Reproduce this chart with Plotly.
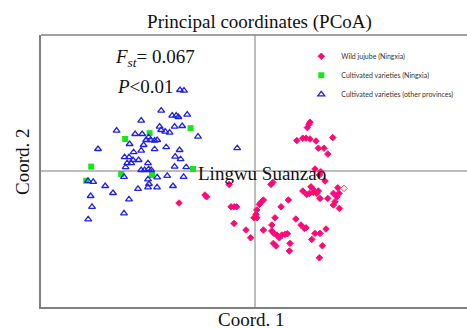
import plotly.graph_objects as go

# Wild jujube (Ningxia)
wild_x = [0.275, 0.270, 0.262, 0.209, 0.239, 0.255, 0.275, 0.305, 0.389, 0.317, 0.345, 0.364,
          0.300, 0.329, 0.322, 0.350, 0.089, 0.080, -0.129, 0.239, 0.259, 0.280, 0.289, 0.272,
          0.292, 0.309, 0.317, 0.325, 0.364, 0.392, 0.414, 0.420, 0.409, 0.400, 0.392, 0.422,
          -0.250, -0.242, 0.042, 0.029, 0.022, 0.167, 0.130, -0.120, -0.104, -0.092, 0.009,
          0.005, -0.005, 0.009, 0.100, 0.204, 0.230, 0.247, 0.255, -0.105, 0.084, -0.045,
          0.042, -0.022, 0.084, 0.095, 0.109, 0.122, 0.134, 0.150, 0.162, 0.092, 0.105,
          0.175, 0.172, 0.300, 0.325, 0.355, 0.284, 0.337, 0.322, -0.380]
wild_y = [0.244, 0.234, 0.217, 0.152, 0.164, 0.164, 0.160, 0.150, 0.167, 0.114, 0.114, 0.085,
          0.010, -0.004, -0.020, -0.050, -0.057, -0.067, -0.067, -0.100, -0.117, -0.079, -0.090,
          -0.112, -0.107, -0.112, -0.100, -0.137, -0.137, -0.112, -0.084, -0.112, -0.129,
          -0.154, -0.170, -0.187, -0.120, -0.129, -0.145, -0.157, -0.167, -0.145, -0.179,
          -0.179, -0.179, -0.179, -0.195, -0.217, -0.234, -0.234, -0.234, -0.240, -0.270,
          -0.287, -0.284, -0.262, -0.270, -0.295, -0.295, -0.334, -0.300, -0.312, -0.320,
          -0.334, -0.320, -0.317, -0.314, -0.362, -0.375, -0.362, -0.400, -0.312, -0.312,
          -0.290, -0.342, -0.374, -0.434, -0.160]

# Lingwu Suanzao (open diamond)
lingwu_x = [0.445]
lingwu_y = [-0.087]

# Cultivated varieties (Ningxia)
cult_nx_x = [-0.527, -0.649, -0.322, -0.819, -0.669, -0.515, -0.310, -0.844]
cult_nx_y = [0.189, 0.160, 0.214, 0.022, -0.015, -0.020, 0.010, -0.049]

# Cultivated varieties (other provinces)
cult_op_x = [-0.375, -0.355, -0.469, -0.414, -0.394, -0.383, -0.339, -0.569, -0.692, -0.477,
             -0.469, -0.449, -0.427, -0.402, -0.364, -0.599, -0.564, -0.532, -0.522, -0.502,
             -0.489, -0.544, -0.285, -0.627, -0.557, -0.502, -0.444, -0.785, -0.569, -0.607,
             -0.377, -0.652, -0.630, -0.610, -0.582, -0.399, -0.372, -0.639, -0.619, -0.535,
             -0.647, -0.402, -0.344, -0.569, -0.552, -0.532, -0.519, -0.655, -0.535, -0.489,
             -0.439, -0.357, -0.835, -0.809, -0.749, -0.585, -0.535, -0.530, -0.490, -0.410,
             -0.822, -0.630, -0.710, -0.815, -0.655, -0.834, -0.089]
cult_op_y = [0.405, 0.402, 0.302, 0.277, 0.277, 0.270, 0.282, 0.252, 0.202, 0.222,
             0.205, 0.197, 0.192, 0.222, 0.225, 0.185, 0.185, 0.169, 0.155, 0.152,
             0.155, 0.155, 0.172, 0.135, 0.130, 0.109, 0.119, 0.110, 0.102, 0.094,
             0.105, 0.069, 0.069, 0.055, 0.055, 0.072, 0.059, 0.039, 0.039, 0.039,
             0.019, 0.022, 0.019, 0.005, 0.005, 0.009, 0.005, -0.029, -0.042, -0.032,
             -0.024, -0.029, -0.049, -0.054, -0.075, -0.089, -0.082, -0.065, -0.082, -0.075,
             -0.125, -0.142, -0.110, -0.179, -0.212, -0.242, 0.114]

SERIF = "Liberation Serif, Times New Roman, serif"

fig = go.Figure()
fig.add_trace(go.Scatter(
    x=wild_x, y=wild_y, mode="markers", name="Wild jujube (Ningxia)",
    marker=dict(symbol="diamond", size=5, color="#ff0099", line=dict(color="#ff1a40", width=1)),
))
fig.add_trace(go.Scatter(
    x=cult_nx_x, y=cult_nx_y, mode="markers", name="Cultivated varieties (Ningxia)",
    marker=dict(symbol="square", size=6, color="#19e619", line=dict(width=0)),
))
fig.add_trace(go.Scatter(
    x=cult_op_x, y=cult_op_y, mode="markers", name="Cultivated varieties (other provinces)",
    marker=dict(symbol="triangle-up-open", size=6, color="#2020ee", line=dict(color="#2020ee", width=1.3)),
))
fig.add_trace(go.Scatter(
    x=lingwu_x, y=lingwu_y, mode="markers", name="Lingwu Suanzao", showlegend=False,
    marker=dict(symbol="diamond-open", size=5, color="#ff3333", line=dict(color="#ff3333", width=1)),
))

axis_common = dict(
    showgrid=False, showticklabels=False, ticks="",
    zeroline=True, zerolinecolor="#bdbdbd", zerolinewidth=1.5,
    showline=True, linecolor="#808080", linewidth=1.5,
)

fig.update_layout(
    width=467, height=328,
    margin=dict(l=41, r=0, t=35, b=21),
    paper_bgcolor="white", plot_bgcolor="white",
    xaxis=dict(range=[-1.07, 1.06], **axis_common),
    yaxis=dict(range=[-0.68, 0.68], **axis_common),
    title=dict(text="Principal coordinates (PCoA)", x=259.5 / 467, y=1 - 21 / 328,
               xanchor="center", yanchor="middle",
               font=dict(family=SERIF, size=19, color="#111111")),
    showlegend=True,
    legend=dict(x=0.611, y=0.975, xanchor="left", yanchor="top",
                bgcolor="rgba(0,0,0,0)", borderwidth=0,
                font=dict(family="Lato, sans-serif", size=7, color="#333333")),
    font=dict(family=SERIF, color="#111111"),
)

fig.add_shape(type="line", xref="paper", yref="paper", x0=0, x1=1, y0=1, y1=1,
              line=dict(color="#808080", width=1.5))

annots = [
    dict(text="<i>F</i><sub><i>st</i></sub>= 0.067", x=-0.71, y=0.567, xref="x", yref="y",
         xanchor="left", yanchor="middle", showarrow=False, font=dict(family=SERIF, size=19)),
    dict(text="<i>P</i><0.01", x=-0.70, y=0.424, xref="x", yref="y",
         xanchor="left", yanchor="middle", showarrow=False, font=dict(family=SERIF, size=19)),
    dict(text="Lingwu Suanzao", x=-0.295, y=-0.0125, xref="x", yref="y",
         xanchor="left", yanchor="middle", showarrow=False, font=dict(family=SERIF, size=19)),
    dict(text="Coord. 1", x=(251 - 41) / 426, y=(307 - 319.3) / 272, xref="paper", yref="paper",
         xanchor="center", yanchor="middle", showarrow=False, font=dict(family=SERIF, size=19)),
    dict(text="Coord. 2", x=(22.5 - 41) / 426, y=(307 - 161.5) / 272, xref="paper", yref="paper",
         xanchor="center", yanchor="middle", textangle=-90, showarrow=False,
         font=dict(family=SERIF, size=19)),
]
for a in annots:
    fig.add_annotation(**a)

fig.write_html("out.html", config={"displayModeBar": False},
               post_script="document.body.style.margin='0';document.body.style.overflow='hidden';")
